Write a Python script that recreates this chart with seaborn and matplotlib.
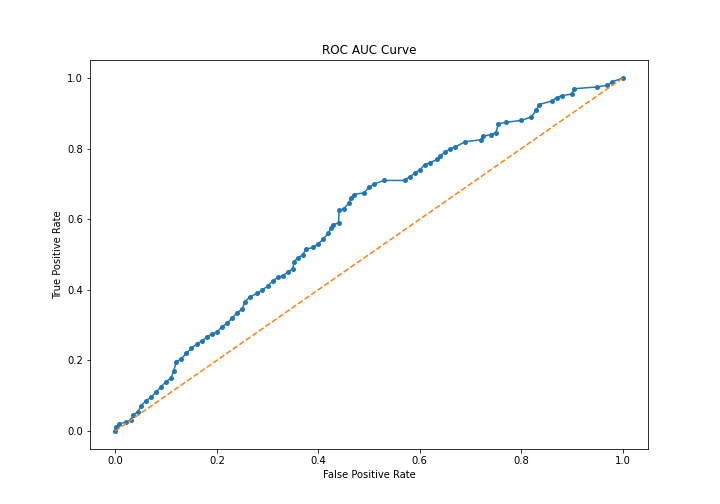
import matplotlib
matplotlib.use("Agg")
import matplotlib.pyplot as plt
import seaborn as sns
import numpy as np

# ROC points
fpr = [0.0, 0.002, 0.008, 0.02, 0.03, 0.035, 0.045, 0.05, 0.06, 0.07, 0.08, 0.09,
       0.1, 0.11, 0.115, 0.12, 0.13, 0.14, 0.15, 0.16, 0.17, 0.18, 0.19, 0.2,
       0.21, 0.22, 0.23, 0.24, 0.25, 0.255, 0.265, 0.28, 0.29, 0.3, 0.31, 0.32,
       0.33, 0.34, 0.35, 0.352, 0.36, 0.37, 0.375, 0.39, 0.4, 0.41, 0.42, 0.425,
       0.43, 0.44, 0.441, 0.45, 0.46, 0.465, 0.47, 0.49, 0.5, 0.51, 0.53, 0.57,
       0.58, 0.59, 0.6, 0.61, 0.62, 0.635, 0.64, 0.65, 0.66, 0.67, 0.69, 0.72,
       0.725, 0.74, 0.75, 0.755, 0.77, 0.8, 0.82, 0.83, 0.835, 0.86, 0.87, 0.88,
       0.9, 0.905, 0.95, 0.97, 0.98, 1.0]
tpr = [0.0, 0.01, 0.02, 0.025, 0.03, 0.045, 0.055, 0.07, 0.085, 0.095, 0.11, 0.125,
       0.14, 0.15, 0.17, 0.195, 0.205, 0.22, 0.235, 0.245, 0.255, 0.265, 0.275, 0.28,
       0.295, 0.305, 0.32, 0.335, 0.345, 0.365, 0.38, 0.39, 0.4, 0.41, 0.425, 0.435,
       0.44, 0.45, 0.46, 0.48, 0.49, 0.5, 0.515, 0.52, 0.53, 0.545, 0.56, 0.575,
       0.585, 0.59, 0.625, 0.63, 0.645, 0.66, 0.67, 0.675, 0.69, 0.7, 0.71, 0.71,
       0.72, 0.73, 0.74, 0.755, 0.76, 0.77, 0.78, 0.79, 0.8, 0.805, 0.82, 0.825,
       0.835, 0.84, 0.845, 0.87, 0.875, 0.88, 0.89, 0.91, 0.925, 0.935, 0.945, 0.95,
       0.955, 0.97, 0.975, 0.98, 0.99, 1.0]
diag = [0.0, 1.0]

fig, ax = plt.subplots(figsize=(10, 7), dpi=72)
sns.lineplot(x=fpr, y=tpr, marker="o", markersize=5, markeredgewidth=0,
             color="#1f77b4", lw=1.5, sort=False, ax=ax)
sns.lineplot(x=diag, y=diag, linestyle="--", color="#ff7f0e", lw=1.5, ax=ax)
ax.set_xlabel("False Positive Rate")
ax.set_ylabel("True Positive Rate")
ax.set_title("ROC AUC Curve")
fig.savefig("out.png", dpi=72)
